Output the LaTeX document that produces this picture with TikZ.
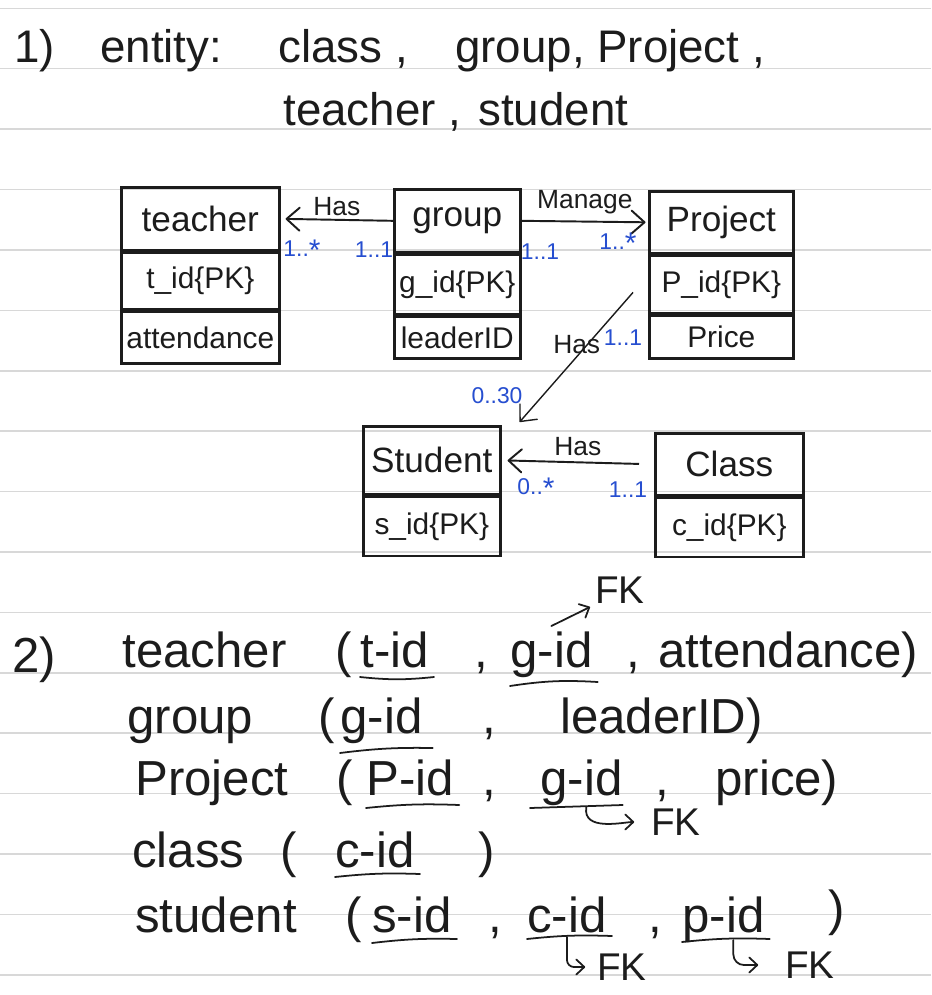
\documentclass[tikz,border=0pt]{standalone}
\usepackage{fontspec}
\setmainfont{Liberation Sans}
\usepackage{tikz}
\usetikzlibrary{arrows.meta,positioning}
\definecolor{ink}{RGB}{28,28,28}
\definecolor{penblue}{RGB}{38,78,208}
\definecolor{ruling}{RGB}{216,216,216}
\newcommand{\fsz}[1]{\fontsize{#1}{#1}\selectfont}
\newcommand{\manymark}{\raisebox{-0.35ex}{\fsz{17}*}}

\begin{document}
\begin{tikzpicture}[
  x=0.02cm, y=-0.02cm,
  >={Straight Barb[length=2.6mm,width=4.6mm,round]},
  entityhead/.style={draw=ink, line width=1.5pt, inner sep=0pt, anchor=north west,
    text=ink, font=\fsz{20}},
  entityrow/.style={draw=ink, line width=1.5pt, inner sep=0pt, text=ink, font=\fsz{17}},
  rel/.style={draw=ink, line width=1.1pt, ->},
  rellabel/.style={text=ink, font=\fsz{15}, inner sep=1pt},
  mult/.style={text=penblue, font=\fsz{13}, inner sep=1pt},
  word/.style={text=ink, anchor=base west, inner sep=0pt, font=\fsz{26}},
  schema/.style={word, font=\fsz{28}},
  fk/.style={text=ink, font=\fsz{22}, inner sep=1pt},
  uline/.style={draw=ink, line width=1pt, line cap=round},
  fkarrow/.style={draw=ink, line width=1pt, line cap=round, ->,
    >={Straight Barb[length=1.6mm,width=3mm,round]}}
]
  % lined paper
  \fill[white] (0,0) rectangle (931,995);
  \useasboundingbox (0,0) rectangle (931,995);
  \foreach \k in {0,...,16}
    \draw[ruling, line width=0.9pt] (0,{8.3+60.4*\k}) -- (931,{8.3+60.4*\k});

  % 1) entities
  \node[word] (num1) at (14,62) {1)};
  \node[word] (entlabel) at (100,62) {entity:};
  \node[word] (entclass) at (278,62) {class ,};
  \node[word] (entgroup) at (455,62) {group,};
  \node[word] (entproject) at (597,62) {Project ,};
  \node[word] (entteacher) at (283,125) {teacher ,};
  \node[word] (entstudent) at (478,125) {student};

  % ER diagram
  \node[entityhead, minimum width=3.16cm, minimum height=1.26cm] (teacher) at (120,186) {teacher};
  \node[entityrow, minimum width=3.16cm, minimum height=1.12cm, below=0pt of teacher] (tid) {t\_id\{PK\}};
  \node[entityrow, minimum width=3.16cm, minimum height=1.04cm, below=0pt of tid] (tattend) {attendance};

  \node[entityhead, minimum width=2.52cm, minimum height=1.26cm] (group) at (393,188) {group};
  \node[entityrow, minimum width=2.52cm, minimum height=1.18cm, below=0pt of group] (gid) {g\_id\{PK\}};
  \node[entityrow, minimum width=2.52cm, minimum height=0.84cm, below=0pt of gid] (gleader) {leaderID};

  \node[entityhead, minimum width=2.88cm, minimum height=1.24cm] (project) at (648,190) {Project};
  \node[entityrow, minimum width=2.88cm, minimum height=1.14cm, below=0pt of project] (pid) {P\_id\{PK\}};
  \node[entityrow, minimum width=2.88cm, minimum height=0.86cm, below=0pt of pid] (pprice) {Price};

  \node[entityhead, minimum width=2.74cm, minimum height=1.36cm] (student) at (362,425) {Student};
  \node[entityrow, minimum width=2.74cm, minimum height=1.18cm, below=0pt of student] (sid) {s\_id\{PK\}};

  \node[entityhead, minimum width=2.96cm, minimum height=1.24cm] (class) at (654,432) {Class};
  \node[entityrow, minimum width=2.96cm, minimum height=1.18cm, below=0pt of class] (cid) {c\_id\{PK\}};

  \draw[rel, shorten >=0.1cm] (group.west) -- (teacher.east)
    node[rellabel, midway, above=1pt] (hasteach) {Has};
  \draw[rel, shorten >=0.05cm] (group.east) -- (project.west)
    node[rellabel, midway, above=3pt] (manage) {Manage};
  \draw[rel, line width=0.8pt] ([xshift=-0.3cm, yshift=-0.16cm]pid.west)
    -- ([xshift=0.36cm, yshift=0.06cm]student.north east)
    node[rellabel, pos=0.4, left=-0.3cm] (hasproj) {Has};
  \draw[rel, shorten <=0.3cm, shorten >=0.12cm] (class.west) -- (student.east)
    node[rellabel, midway, above=2pt] (hasclass) {Has};

  % multiplicities
  \node[mult] (mteach) at (302,250) {1..\manymark};
  \node[mult] (mgroupa) at (374,250) {1..1};
  \node[mult] (mgroupb) at (540,252) {1..1};
  \node[mult] (mprojb) at (618,243) {1..\manymark};
  \node[mult] (mproja) at (623,338) {1..1};
  \node[mult] (mstudp) at (497,396) {0..30};
  \node[mult] (mstudc) at (536,488) {0..\manymark};
  \node[mult] (mclass) at (628,490) {1..1};

  % 2) relations
  \node[schema] (num2) at (12,672) {2)};
  \node[schema] (rteacher) at (122,667) {teacher};
  \node[schema] (rtopen) at (335,667) {(};
  \node[schema] (rttid) at (360,667) {t-id};
  \node[schema] (rtc1) at (474,667) {,};
  \node[schema] (rtgid) at (510,667) {g-id};
  \node[schema] (rtc2) at (626,667) {,};
  \node[schema] (rtattend) at (658,667) {attendance)};
  \node[fk] (fkteach) at (620,590) {FK};

  \node[schema] (rgroup) at (127,733) {group};
  \node[schema] (rgopen) at (318,733) {(};
  \node[schema] (rggid) at (340,733) {g-id};
  \node[schema] (rgc1) at (482,733) {,};
  \node[schema] (rgleader) at (560,733) {leaderID)};

  \node[schema] (rproject) at (135,795) {Project};
  \node[schema] (rpopen) at (336,795) {(};
  \node[schema] (rppid) at (366,795) {P-id};
  \node[schema] (rpc1) at (482,795) {,};
  \node[schema] (rpgid) at (540,795) {g-id};
  \node[schema] (rpc2) at (655,795) {,};
  \node[schema] (rpprice) at (715,795) {price)};
  \node[fk] (fkproj) at (676,822) {FK};

  \node[schema] (rclass) at (132,867) {class};
  \node[schema] (rcopen) at (280,867) {(};
  \node[schema] (rccid) at (335,867) {c-id};
  \node[schema] (rcclose) at (478,867) {)};

  \node[schema] (rstudent) at (135,932) {student};
  \node[schema] (rsopen) at (345,932) {(};
  \node[schema] (rssid) at (372,932) {s-id};
  \node[schema] (rsc1) at (488,932) {,};
  \node[schema] (rscid) at (527,932) {c-id};
  \node[schema] (rsc2) at (648,932) {,};
  \node[schema] (rspid) at (682,932) {p-id};
  \node[schema] (rsclose) at (828,925) {)};
  \node[fk] (fkstudc) at (622,967) {FK};
  \node[fk] (fkstudp) at (810,965) {FK};

  % keys underlined
  \draw[uline] ([yshift=-0.2cm]rttid.base west) to[bend right=6] ([xshift=0.1cm, yshift=-0.2cm]rttid.base east);
  \draw[uline] ([yshift=-0.38cm]rtgid.base west) to[bend left=6] ([xshift=0.1cm, yshift=-0.3cm]rtgid.base east);
  \draw[uline] ([yshift=-0.4cm]rggid.base west) to[bend left=4] ([xshift=0.2cm, yshift=-0.3cm]rggid.base east);
  \draw[uline] ([yshift=-0.26cm]rppid.base west) to[bend left=4] ([xshift=0.1cm, yshift=-0.2cm]rppid.base east);
  \draw[uline] ([xshift=-0.2cm, yshift=-0.26cm]rpgid.base west) -- ([yshift=-0.2cm]rpgid.base east);
  \draw[uline] ([yshift=-0.2cm]rccid.base west) to[bend left=4] ([xshift=0.1cm, yshift=-0.14cm]rccid.base east);
  \draw[uline] ([yshift=-0.22cm]rssid.base west) to[bend left=4] ([xshift=0.1cm, yshift=-0.14cm]rssid.base east);
  \draw[uline] ([yshift=-0.14cm]rscid.base west) to[bend left=4] ([xshift=0.1cm, yshift=-0.08cm]rscid.base east);
  \draw[uline] ([yshift=-0.2cm]rspid.base west) to[bend left=4] ([xshift=0.1cm, yshift=-0.14cm]rspid.base east);

  % foreign keys
  \draw[fkarrow, shorten >=2pt] ([yshift=0.1cm]rtgid.north) -- (fkteach.south west);
  \draw[fkarrow, shorten >=0.3cm] ([xshift=0.1cm, yshift=-0.24cm]rpgid.base) to[out=-100, in=180] (fkproj.west);
  \draw[fkarrow, shorten >=0.2cm, rounded corners=4pt] ([yshift=-0.1cm]rscid.base) |- (fkstudc.west);
  \draw[fkarrow, shorten >=0.5cm, rounded corners=6pt] ([xshift=0.2cm, yshift=-0.16cm]rspid.base) |- (fkstudp.west);
\end{tikzpicture}
\end{document}
